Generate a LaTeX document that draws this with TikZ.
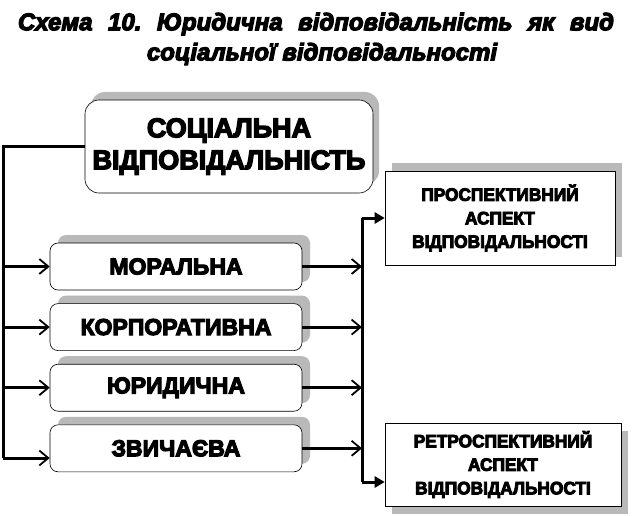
\documentclass[tikz,border=0pt]{standalone}
\usepackage{fontspec}
\setmainfont{Liberation Sans}
\newfontfamily\heavyfont[UprightFont=* Bold, ItalicFont=* Bold Italic, FakeBold=5]{Liberation Sans}
\newfontfamily\narrowfont[UprightFont=* Bold, FakeStretch=0.96, FakeBold=5]{Liberation Sans}
\usetikzlibrary{
  arrows.meta,
  positioning,
  shadows
}
\tikzset{
  % Top box with shadow
  mainbox/.style={
    rectangle, rounded corners=14pt,
    draw=black, line width=0.6pt, fill=white,
    minimum width=288pt, minimum height=93pt, inner sep=0pt,
    align=center, font=\heavyfont\fontsize{27}{32}\selectfont,
    drop shadow={shadow xshift=6pt, shadow yshift=8pt, fill=gray!55, opacity=1}
  },
  % Kinds of responsibility
  typebox/.style={
    rectangle, rounded corners=8pt,
    draw=black, line width=0.6pt, fill=white,
    minimum width=252pt, minimum height=47pt, inner sep=0pt,
    align=center, font=\heavyfont\fontsize{23}{26}\selectfont,
    drop shadow={shadow xshift=8pt, shadow yshift=8pt, fill=gray!55, opacity=1}
  },
  % Aspect boxes
  aspbox/.style={
    rectangle, draw=black, line width=0.6pt, fill=white,
    inner sep=0pt, align=center,
    font=\narrowfont\fontsize{18}{23.5}\selectfont,
    drop shadow={shadow xshift=7pt, shadow yshift=#1, fill=gray!55, opacity=1}
  },
  % Lines
  bus/.style={line width=3pt},
  openarr/.style={
    -{Straight Barb[length=9pt,width=15pt,line width=1.8pt]},
    line width=3pt
  },
  fillarr/.style={
    -{Triangle[length=10pt,width=11pt]},
    line width=3pt
  },
  ttl/.style={font=\heavyfont\itshape\fontsize{24}{28}\selectfont, inner sep=0pt}
}

\begin{document}
\frenchspacing
\begin{tikzpicture}[x=1pt,y=-1pt]
  \useasboundingbox (0,0) rectangle (632,516);

  % Title
  \node[ttl] (title)  at (316,24) {\makebox[596pt][s]{Схема 10. Юридична відповідальність як вид}};
  \node[ttl] (title2) at (322,54) {соціальної відповідальності};

  % Boxes
  \node[mainbox] (social) at (229,146.5) {СОЦІАЛЬНА\\ВІДПОВІДАЛЬНІСТЬ};
  \node[typebox] (moral) at (176,266.5) {МОРАЛЬНА};
  \node[typebox, below=13pt of moral] (corp)  {КОРПОРАТИВНА};
  \node[typebox, below=13pt of corp]  (legal) {ЮРИДИЧНА};
  \node[typebox, below=13pt of legal] (custom) {ЗВИЧАЄВА};

  \node[aspbox=8pt, minimum width=230pt, minimum height=94pt] (prosp) at (500,218)
    {ПРОСПЕКТИВНИЙ\\АСПЕКТ\\ВІДПОВІДАЛЬНОСТІ};
  \node[aspbox=-8pt, minimum width=236pt, minimum height=83pt] (retro) at (503,464.5)
    {РЕТРОСПЕКТИВНИЙ\\АСПЕКТ\\ВІДПОВІДАЛЬНОСТІ};

  % Left bus
  \coordinate (lbot) at (3,458);
  \draw[bus] (social.west) -| (lbot);
  \foreach \n in {moral,corp,legal}
    \draw[openarr] (\n.west -| lbot) -- (\n.west);
  \draw[openarr] (lbot) -- (lbot -| custom.west);

  % Right bus
  \coordinate (rtop) at (362,218);
  \coordinate (rbot) at (362,482);
  \draw[bus] (rtop) -- (rbot);
  \foreach \n in {moral,corp,legal,custom}
    \draw[openarr] (\n.east) -- (\n.east -| rtop);
  \draw[fillarr] (rtop) -- (prosp.west);
  \draw[fillarr] (rbot) -- (rbot -| retro.west);

\end{tikzpicture}
\end{document}
